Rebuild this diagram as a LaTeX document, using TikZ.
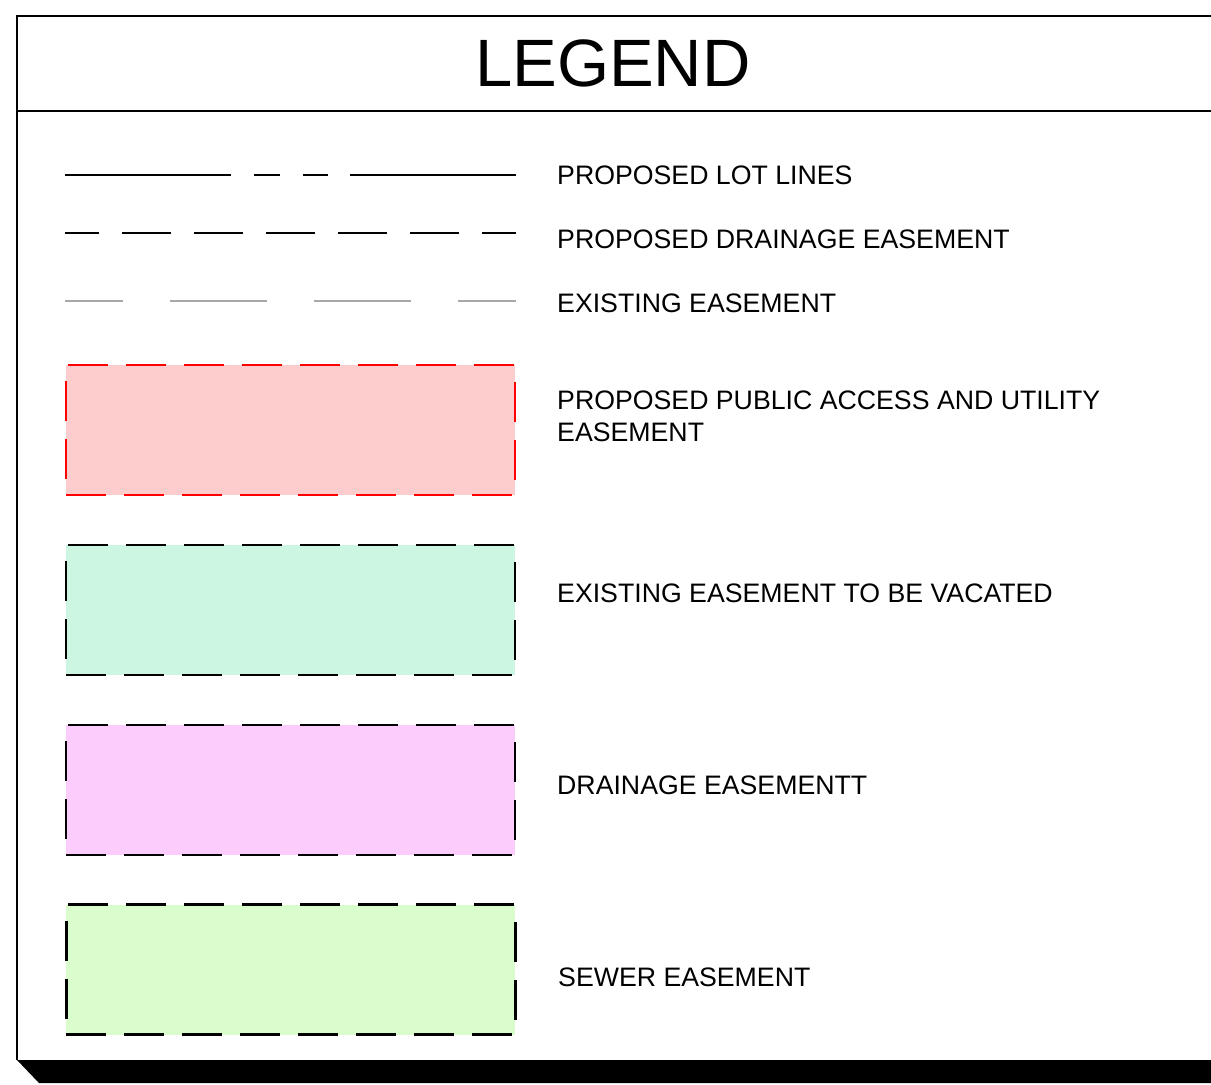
\documentclass[tikz,border=0pt]{standalone}
\usepackage{fontspec}
\setmainfont{Liberation Sans}
\usetikzlibrary{positioning}
\definecolor{accRed}{HTML}{FDCCCC}
\definecolor{vacGreen}{HTML}{CCF6E1}
\definecolor{drnPink}{HTML}{FCCCFC}
\definecolor{swrGreen}{HTML}{D9FDCC}
\definecolor{lineGray}{HTML}{A8A8A8}

\begin{document}
\begin{tikzpicture}[
        x=1pt, y=-1pt,
        font=\fontsize{26.7}{32}\selectfont,
        frame/.style={draw=black, line width=2.4pt},
        swatch/.style={minimum width=449pt, minimum height=130pt,
                       inner sep=0pt, line width=2.4pt,
                       dash pattern=on 40pt off 18pt},
        legtext/.style={anchor=west, align=left, inner sep=0pt},
        sample/.style={line width=2.6pt},
      ]
      \useasboundingbox (0,0) rectangle (1211,1085);
      % frame and shadow
      \draw[frame] (1211,16) -- (17,16) -- (17,1060);
      \draw[frame] (17,111) -- (1211,111);
      \fill[black] (17,1060) -- (39,1083) -- (1211,1083) -- (1211,1060) -- cycle;
      \node[font=\fontsize{67}{80}\selectfont] (title) at (613,63) {LEGEND};
      % line samples
      \draw[sample, dash pattern=on 166pt off 23pt on 26pt off 23pt on 25pt off 22pt on 166pt off 100pt]
        (65,175) -- (516,175);
      \node[legtext] (lotlines) at (557,175) {PROPOSED LOT LINES};
      \draw[sample, dash pattern=on 49pt off 23pt, dash phase=15pt] (65,233) -- (516,233);
      \node[legtext] (drainline) at (557,239) {PROPOSED DRAINAGE EASEMENT};
      \draw[sample, draw=lineGray, line width=1.8pt, dash pattern=on 97pt off 47pt, dash phase=39pt]
        (65,301) -- (516,301);
      \node[legtext] (exline) at (557,303) {EXISTING EASEMENT};
      % hatch swatches
      \node[swatch, fill=accRed, draw=red] (pubacc) at (290.5,430) {};
      \node[legtext] (pubacctxt) at (557,416) {PROPOSED PUBLIC ACCESS AND UTILITY\\EASEMENT};
      \node[swatch, fill=vacGreen, draw=black] (vacate) at (290.5,610) {};
      \node[legtext] (vacatetxt) at (557,593) {EXISTING EASEMENT TO BE VACATED};
      \node[swatch, fill=drnPink, draw=black] (drainage) at (290.5,790) {};
      \node[legtext] (drainagetxt) at (557,785) {DRAINAGE EASEMENTT};
      \node[swatch, fill=swrGreen, draw=black, line width=3pt] (sewer) at (290.5,969.5) {};
      \node[legtext] (sewertxt) at (558,977) {SEWER EASEMENT};
    \end{tikzpicture}
\end{document}
